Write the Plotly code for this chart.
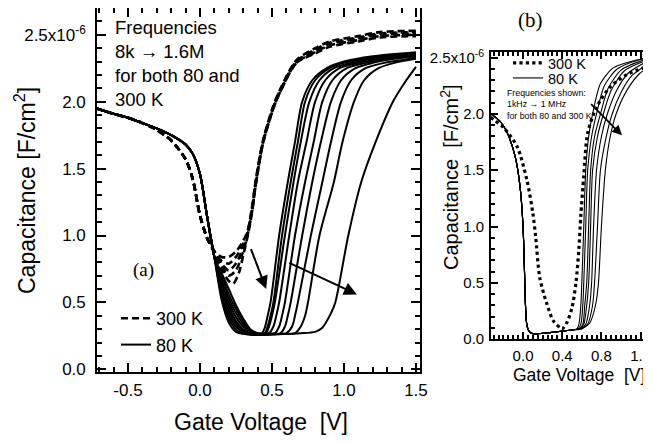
import plotly.graph_objects as go

# ---------------- Panel (a) data (capacitance in units of 1e-6 F/cm^2) ----------------
# shared accumulation branch
A80_ACC_V = [-0.72, -0.6, -0.5, -0.4, -0.3, -0.2, -0.1, -0.05, 0.0, 0.05, 0.1]
A80_ACC_C = [1.95, 1.91, 1.88, 1.84, 1.80, 1.75, 1.68, 1.61, 1.46, 1.14, 0.84]

# 80 K, 8 kHz -> 1.6 MHz (depletion / inversion branches)
A80_V = [
    [0.15, 0.2, 0.25, 0.3, 0.35, 0.40, 0.43, 0.45, 0.47, 0.49, 0.55, 0.61, 0.66, 0.71, 0.78, 0.88, 1.0, 1.2, 1.5],
    [0.15, 0.2, 0.25, 0.3, 0.35, 0.40, 0.45, 0.47, 0.49, 0.51, 0.57, 0.63, 0.68, 0.73, 0.80, 0.90, 1.0, 1.2, 1.5],
    [0.15, 0.2, 0.25, 0.3, 0.35, 0.40, 0.46, 0.48, 0.50, 0.52, 0.59, 0.65, 0.70, 0.76, 0.83, 0.93, 1.05, 1.25, 1.5],
    [0.15, 0.2, 0.25, 0.3, 0.35, 0.40, 0.48, 0.51, 0.53, 0.55, 0.62, 0.68, 0.74, 0.80, 0.87, 0.97, 1.1, 1.3, 1.5],
    [0.15, 0.2, 0.25, 0.3, 0.35, 0.40, 0.46, 0.52, 0.55, 0.57, 0.59, 0.66, 0.73, 0.79, 0.85, 0.92, 1.02, 1.15, 1.3, 1.5],
    [0.15, 0.2, 0.25, 0.3, 0.35, 0.40, 0.48, 0.56, 0.59, 0.61, 0.63, 0.71, 0.78, 0.84, 0.91, 0.98, 1.08, 1.2, 1.35, 1.5],
    [0.15, 0.2, 0.25, 0.3, 0.35, 0.40, 0.50, 0.60, 0.64, 0.66, 0.68, 0.77, 0.85, 0.91, 0.98, 1.05, 1.15, 1.28, 1.4, 1.5],
    [0.15, 0.2, 0.25, 0.3, 0.35, 0.40, 0.52, 0.66, 0.70, 0.73, 0.75, 0.83, 0.93, 0.99, 1.07, 1.14, 1.24, 1.35, 1.5],
    [0.15, 0.2, 0.25, 0.3, 0.35, 0.40, 0.5, 0.6, 0.7, 0.8, 0.85, 0.88, 0.91, 0.94, 1.03, 1.12, 1.22, 1.34, 1.42, 1.5],
]
A80_C = [
    [0.52, 0.35, 0.28, 0.265, 0.26, 0.26, 0.27, 0.31, 0.40, 0.50, 1.0, 1.4, 1.7, 2.0, 2.16, 2.25, 2.30, 2.34, 2.37],
    [0.55, 0.38, 0.30, 0.27, 0.26, 0.26, 0.27, 0.32, 0.40, 0.50, 1.0, 1.4, 1.7, 2.0, 2.16, 2.25, 2.29, 2.33, 2.36],
    [0.57, 0.41, 0.32, 0.28, 0.26, 0.26, 0.27, 0.32, 0.40, 0.50, 1.0, 1.4, 1.7, 2.0, 2.16, 2.25, 2.29, 2.33, 2.36],
    [0.60, 0.44, 0.34, 0.29, 0.27, 0.26, 0.27, 0.32, 0.40, 0.50, 1.0, 1.4, 1.7, 2.0, 2.16, 2.25, 2.29, 2.33, 2.35],
    [0.62, 0.47, 0.36, 0.30, 0.27, 0.26, 0.26, 0.27, 0.32, 0.40, 0.50, 1.0, 1.4, 1.7, 2.0, 2.16, 2.25, 2.29, 2.32, 2.35],
    [0.65, 0.50, 0.39, 0.32, 0.28, 0.26, 0.26, 0.27, 0.32, 0.40, 0.50, 1.0, 1.4, 1.7, 2.0, 2.16, 2.25, 2.29, 2.32, 2.34],
    [0.67, 0.53, 0.42, 0.34, 0.28, 0.26, 0.26, 0.27, 0.32, 0.40, 0.50, 1.0, 1.4, 1.7, 2.0, 2.16, 2.25, 2.29, 2.31, 2.33],
    [0.70, 0.56, 0.45, 0.36, 0.29, 0.27, 0.265, 0.27, 0.32, 0.40, 0.50, 1.0, 1.4, 1.7, 2.0, 2.16, 2.25, 2.29, 2.32],
    [0.72, 0.60, 0.48, 0.38, 0.30, 0.27, 0.265, 0.265, 0.27, 0.28, 0.31, 0.36, 0.42, 0.50, 1.0, 1.4, 1.7, 2.0, 2.14, 2.26],
]

# 300 K (dashed), accumulation branch shared
A300_ACC_V = [-0.72, -0.6, -0.5, -0.4, -0.3, -0.2, -0.1, -0.05, 0.0, 0.05, 0.1]
A300_ACC_C = [1.95, 1.91, 1.88, 1.84, 1.79, 1.71, 1.57, 1.42, 1.15, 0.98, 0.88]
A300_V = [
    [0.15, 0.2, 0.25, 0.3, 0.33, 0.36, 0.39, 0.44, 0.51, 0.56, 0.67, 0.8, 0.9, 1.1, 1.25, 1.5],
    [0.15, 0.2, 0.25, 0.3, 0.33, 0.36, 0.39, 0.44, 0.51, 0.56, 0.67, 0.8, 0.9, 1.1, 1.25, 1.5],
    [0.15, 0.2, 0.25, 0.3, 0.33, 0.36, 0.39, 0.44, 0.51, 0.56, 0.67, 0.8, 0.9, 1.1, 1.25, 1.5],
    [0.15, 0.2, 0.25, 0.3, 0.33, 0.36, 0.39, 0.44, 0.51, 0.56, 0.67, 0.8, 0.9, 1.1, 1.25, 1.5],
    [0.15, 0.2, 0.23, 0.27, 0.3, 0.33, 0.36, 0.39, 0.44, 0.51, 0.56, 0.67, 0.8, 0.9, 1.1, 1.25, 1.5],
]
A300_C = [
    [0.84, 0.84, 0.88, 0.96, 1.03, 1.20, 1.43, 1.72, 1.97, 2.10, 2.31, 2.40, 2.45, 2.49, 2.52, 2.53],
    [0.81, 0.79, 0.84, 0.94, 1.02, 1.19, 1.42, 1.71, 1.96, 2.09, 2.30, 2.39, 2.44, 2.48, 2.51, 2.52],
    [0.79, 0.74, 0.79, 0.91, 1.01, 1.18, 1.41, 1.71, 1.96, 2.09, 2.30, 2.38, 2.43, 2.47, 2.50, 2.51],
    [0.77, 0.70, 0.74, 0.88, 1.00, 1.17, 1.40, 1.70, 1.95, 2.08, 2.29, 2.37, 2.42, 2.46, 2.49, 2.50],
    [0.75, 0.66, 0.64, 0.72, 0.85, 0.99, 1.16, 1.40, 1.70, 1.95, 2.08, 2.29, 2.36, 2.41, 2.45, 2.48, 2.49],
]

# ---------------- Panel (b) data ----------------
B80_ACC_V = [-0.33, -0.28, -0.22, -0.16, -0.08, -0.03, 0.0, 0.015, 0.025, 0.04, 0.07, 0.12, 0.2, 0.3, 0.4, 0.5]
B80_ACC_C = [2.00, 1.97, 1.92, 1.83, 1.62, 1.35, 1.0, 0.6, 0.3, 0.12, 0.06, 0.045, 0.05, 0.06, 0.07, 0.08]
B80_V = [
    [0.55, 0.57, 0.59, 0.60, 0.62, 0.64, 0.67, 0.71, 0.79, 0.92, 1.16, 1.3],
    [0.56, 0.59, 0.61, 0.62, 0.64, 0.66, 0.70, 0.75, 0.83, 0.96, 1.18, 1.3],
    [0.57, 0.61, 0.63, 0.65, 0.67, 0.69, 0.73, 0.79, 0.87, 1.00, 1.20, 1.3],
    [0.58, 0.62, 0.65, 0.67, 0.69, 0.71, 0.76, 0.82, 0.90, 1.03, 1.21, 1.3],
    [0.59, 0.64, 0.68, 0.70, 0.72, 0.75, 0.80, 0.86, 0.95, 1.07, 1.23, 1.3],
    [0.60, 0.66, 0.71, 0.73, 0.76, 0.79, 0.85, 0.91, 1.00, 1.11, 1.25, 1.3],
    [0.61, 0.68, 0.74, 0.77, 0.80, 0.84, 0.89, 0.95, 1.06, 1.19, 1.27, 1.3],
]
B80_C = [
    [0.09, 0.13, 0.30, 0.50, 1.00, 1.50, 1.80, 2.00, 2.27, 2.41, 2.48, 2.50],
    [0.09, 0.13, 0.30, 0.50, 1.00, 1.50, 1.80, 2.00, 2.25, 2.40, 2.48, 2.50],
    [0.09, 0.13, 0.30, 0.50, 1.00, 1.50, 1.80, 2.00, 2.23, 2.39, 2.47, 2.49],
    [0.09, 0.13, 0.30, 0.50, 1.00, 1.50, 1.80, 2.00, 2.21, 2.38, 2.46, 2.48],
    [0.09, 0.13, 0.30, 0.50, 1.00, 1.50, 1.80, 2.00, 2.20, 2.36, 2.45, 2.47],
    [0.09, 0.13, 0.30, 0.50, 1.00, 1.50, 1.80, 2.00, 2.19, 2.34, 2.43, 2.46],
    [0.10, 0.14, 0.30, 0.50, 1.00, 1.50, 1.80, 2.00, 2.21, 2.36, 2.41, 2.43],
]
B300_V = [-0.33, -0.30, -0.20, -0.06, 0.04, 0.10, 0.13, 0.17, 0.24, 0.31, 0.38, 0.40, 0.45, 0.50,
          0.54, 0.57, 0.59, 0.62, 0.66, 0.75, 0.89, 1.06, 1.30]
B300_C = [1.97, 1.95, 1.88, 1.71, 1.41, 1.12, 0.90, 0.55, 0.32, 0.16, 0.10, 0.09, 0.15, 0.28,
          0.50, 0.80, 1.10, 1.45, 1.83, 2.06, 2.24, 2.35, 2.43]

Y_ALIAS = {"2.5": "2.5x10<sup>-6</sup>"}
X_ALIAS = {"\u22120.5": "-0.5"}

AXIS_FONT = "Liberation Sans, Arial, sans-serif"
SERIF = "Liberation Serif, Times New Roman, serif"
W, H = 651, 442
OFF = 8  # page body margin of the browser


def px(xp):
    return (xp - OFF) / W


def py(yp):
    return 1 - (yp - OFF) / H


fig = go.Figure()

# panel (a) traces
for i, (v, c) in enumerate(zip(A300_V, A300_C)):
    fig.add_trace(go.Scatter(
        x=A300_ACC_V + v, y=A300_ACC_C + c, mode="lines",
        line=dict(color="black", width=2.6, dash="7px,4px", shape="spline", smoothing=0.8),
        name="300 K", showlegend=(i == 0), legend="legend", xaxis="x", yaxis="y",
        hoverinfo="skip"))
for i, (v, c) in enumerate(zip(A80_V, A80_C)):
    fig.add_trace(go.Scatter(
        x=A80_ACC_V + v, y=A80_ACC_C + c, mode="lines",
        line=dict(color="black", width=2, shape="spline", smoothing=0.8),
        name="80 K", showlegend=(i == 0), legend="legend", xaxis="x", yaxis="y",
        hoverinfo="skip"))

# panel (b) traces
fig.add_trace(go.Scatter(
    x=B300_V, y=B300_C, mode="lines",
    line=dict(color="black", width=3.2, dash="dot", shape="spline", smoothing=0.8),
    name="300 K", showlegend=True, legend="legend2", xaxis="x2", yaxis="y2", hoverinfo="skip"))
for i, (v, c) in enumerate(zip(B80_V, B80_C)):
    fig.add_trace(go.Scatter(
        x=B80_ACC_V + v, y=B80_ACC_C + c, mode="lines",
        line=dict(color="black", width=1.1, shape="spline", smoothing=0.7),
        name="80 K", showlegend=(i == 0), legend="legend3", xaxis="x2", yaxis="y2",
        hoverinfo="skip"))


def axis(domain, rng, dtick, fs, tlen, mlen, mdtick, anchor, standoff, alias=None):
    d = dict(domain=domain, range=rng, tickmode="linear", tick0=0, dtick=dtick, tickformat=".1f",
             ticks="inside", ticklen=tlen, tickwidth=2, tickcolor="black",
             minor=dict(ticks="inside", ticklen=mlen, dtick=mdtick, tick0=0, tickcolor="black",
                        tickwidth=1.5, showgrid=False),
             showline=True, linecolor="black", linewidth=1.6, mirror="allticks",
             showgrid=False, zeroline=False, anchor=anchor, automargin=False,
             tickfont=dict(family=AXIS_FONT, size=fs, color="black"),
             ticklabelstandoff=standoff)
    if alias:
        d["labelalias"] = alias
    return d


fig.update_layout(
    template="none",
    width=W, height=H, margin=dict(l=0, r=0, t=0, b=0, autoexpand=False),
    paper_bgcolor="white", plot_bgcolor="white",
    xaxis=axis([px(97), px(420)], [-0.715, 1.528], 0.5, 17, 9, 5, 0.1, "y", 2, X_ALIAS),
    yaxis=axis([py(372), 1.0], [-0.02, 2.70], 0.5, 17, 9, 5, 0.1, "x", 6, Y_ALIAS),
    xaxis2=axis([px(491), px(650)], [-0.327, 1.296], 0.4, 15, 7, 4, 0.05, "y2", 2),
    yaxis2=axis([py(339), py(52)], [0.0, 2.551], 0.5, 15, 7, 4, 0.1, "x2", 2, Y_ALIAS),
    legend=dict(x=108 / W, y=1 - 292 / H, xanchor="left", yanchor="top", bgcolor="rgba(0,0,0,0)",
                font=dict(family=AXIS_FONT, size=18, color="black"), borderwidth=0),
    legend2=dict(x=500 / W, y=1 - 39 / H, xanchor="left", yanchor="top", bgcolor="rgba(0,0,0,0)",
                 font=dict(family=AXIS_FONT, size=14.5, color="black"), borderwidth=0),
    legend3=dict(x=500 / W, y=1 - 54 / H, xanchor="left", yanchor="top", bgcolor="rgba(0,0,0,0)",
                 font=dict(family=AXIS_FONT, size=14.5, color="black"), borderwidth=0),
    showlegend=True,
)


def label(text, xw, yw, size, family=AXIS_FONT, angle=0, xa="center", ya="middle", align="center"):
    return dict(text=text, x=px(xw), y=py(yw), xref="paper", yref="paper", xanchor=xa, yanchor=ya,
                align=align, textangle=angle, showarrow=False,
                font=dict(family=family, size=size, color="black"))


annotations = [
    label("Gate Voltage&nbsp; [V]", 261, 422, 23),
    label("Capacitance [F/cm<sup>2</sup>]", 25, 191, 23, angle=-90),
    label("Gate Voltage&nbsp; [V]", 579, 375, 17.5),
    label("Capacitance&nbsp; [F/cm<sup>2</sup>]", 449, 177, 20, angle=-90),
    label("(a)", 143, 270, 19, family=SERIF),
    label("(b)", 530, 20, 21, family=SERIF),
    label("Frequencies<br>8k \u2192 1.6M<br>for both 80 and<br>300 K", 113, 15, 18.5,
          xa="left", ya="top", align="left"),
    label("Frequencies shown:<br>1kHz \u2192 1 MHz<br>for both 80 and 300 K", 505, 86, 8.8,
          xa="left", ya="top", align="left"),
    # arrows
    dict(x=0.46, y=0.60, ax=0.35, ay=0.91, xref="x", yref="y", axref="x", ayref="y", text="",
         showarrow=True, arrowhead=2, arrowsize=1.3, arrowwidth=2, arrowcolor="black"),
    dict(x=1.09, y=0.56, ax=0.61, ay=0.80, xref="x", yref="y", axref="x", ayref="y", text="",
         showarrow=True, arrowhead=2, arrowsize=1.3, arrowwidth=2, arrowcolor="black"),
    dict(x=1.01, y=1.81, ax=0.68, ay=2.10, xref="x2", yref="y2", axref="x2", ayref="y2", text="",
         showarrow=True, arrowhead=2, arrowsize=1.1, arrowwidth=1.8, arrowcolor="black"),
]
fig.update_layout(annotations=annotations)

fig.write_html("out.html")
